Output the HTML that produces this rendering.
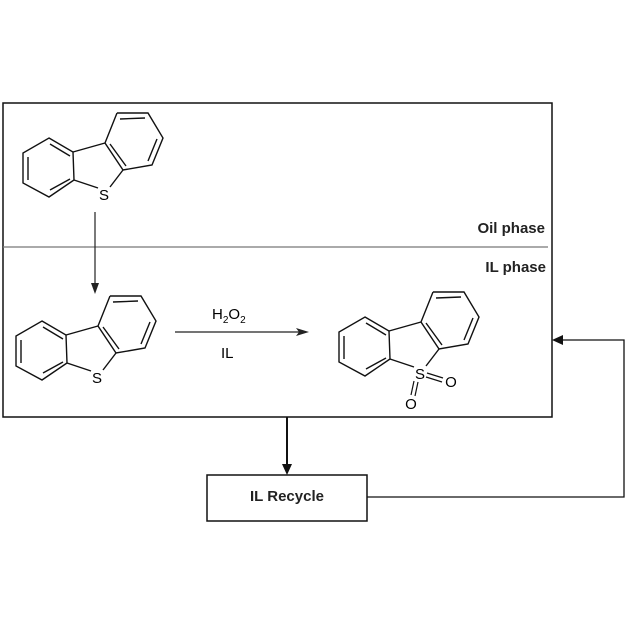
<!DOCTYPE html>
<html><head><style>body{margin:0;background:#fff}svg{display:block}</style></head><body>
<svg width="625" height="625" viewBox="0 0 625 625" xmlns="http://www.w3.org/2000/svg" font-family="Liberation Sans, Arial, sans-serif">
<defs>
<g id="dbt" fill="none" stroke="#111" stroke-width="1.4">
<polygon points="49,138 73,152 74,180 49,197 23,183 23,153"/>
<line x1="28" y1="157" x2="28" y2="180"/>
<line x1="50" y1="144" x2="70" y2="156"/>
<line x1="50" y1="190" x2="70" y2="179"/>
<polyline points="117,113 148,113 163,138 152,165 123,170 105,143 117,113"/>
<line x1="120" y1="119" x2="145" y2="118"/>
<line x1="157" y1="139" x2="148" y2="161"/>
<line x1="110" y1="144" x2="126" y2="166"/>
<line x1="73" y1="152" x2="105" y2="143"/>
<line x1="74" y1="180" x2="98" y2="188"/>
<line x1="123" y1="170" x2="110" y2="187"/>
</g>
</defs>
<rect x="3" y="103" width="549" height="314" fill="none" stroke="#111" stroke-width="1.5"/>
<line x1="3" y1="247" x2="548" y2="247" stroke="#777" stroke-width="1.3"/>
<text x="545" y="233" font-size="15" font-weight="bold" text-anchor="end" fill="#222">Oil phase</text>
<text x="546" y="272" font-size="15" font-weight="bold" text-anchor="end" fill="#222">IL phase</text>
<use href="#dbt"/>
<text x="104" y="200" font-size="15" text-anchor="middle">S</text>
<line x1="95" y1="212" x2="95" y2="285" stroke="#222" stroke-width="1.2"/>
<polygon points="91,283 99,283 95,294" fill="#222"/>
<use href="#dbt" transform="translate(-7,183)"/>
<text x="97" y="383" font-size="15" text-anchor="middle">S</text>
<line x1="175" y1="332" x2="305" y2="332" stroke="#222" stroke-width="1.2"/>
<polygon points="296,328 309,332 296,336 299,332" fill="#222"/>
<text x="212" y="319" font-size="15">H<tspan font-size="10" dy="4">2</tspan><tspan dy="-4">O</tspan><tspan font-size="10" dy="4">2</tspan></text>
<text x="221" y="358" font-size="15">IL</text>
<use href="#dbt" transform="translate(316,179)"/>
<text x="420" y="379" font-size="15" text-anchor="middle">S</text>
<text x="451" y="387" font-size="15" text-anchor="middle">O</text>
<text x="411" y="409" font-size="15" text-anchor="middle">O</text>
<line x1="427" y1="373" x2="443" y2="378" stroke="#111" stroke-width="1.2"/>
<line x1="426" y1="377" x2="442" y2="382" stroke="#111" stroke-width="1.2"/>
<line x1="414" y1="381" x2="411" y2="395" stroke="#111" stroke-width="1.2"/>
<line x1="418" y1="382" x2="415" y2="396" stroke="#111" stroke-width="1.2"/>
<line x1="287" y1="417" x2="287" y2="466" stroke="#111" stroke-width="2"/>
<polygon points="282,464 292,464 287,475" fill="#111"/>
<rect x="207" y="475" width="160" height="46" fill="none" stroke="#111" stroke-width="1.5"/>
<text x="287" y="501" font-size="15" font-weight="bold" text-anchor="middle" fill="#222">IL Recycle</text>
<polyline points="367,497 624,497 624,340 560,340" fill="none" stroke="#111" stroke-width="1.3"/>
<polygon points="552,340 563,335 563,345" fill="#111"/>
</svg>
</body></html>
